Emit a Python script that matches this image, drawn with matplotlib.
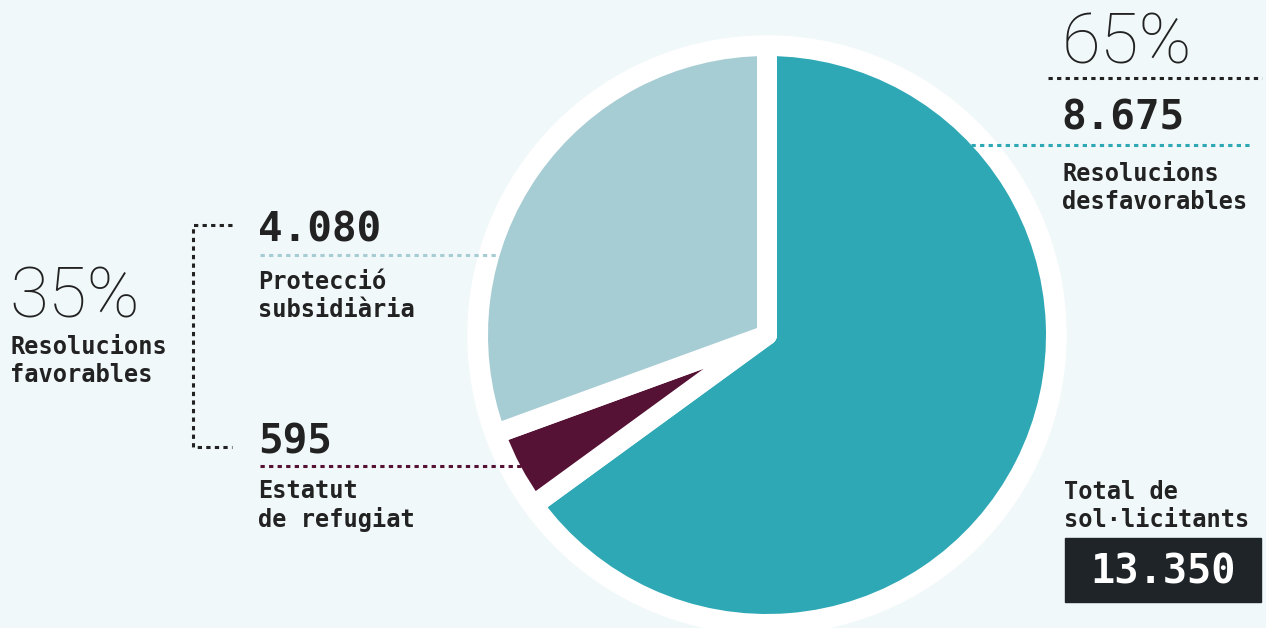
import numpy as np
import matplotlib.pyplot as plt
from matplotlib.patches import Circle, Rectangle

# ------------------------------------------------------------------
# Data
# ------------------------------------------------------------------
categories = ['Resolucions\ndesfavorables', 'Estatut\nde refugiat', 'Protecció\nsubsidiària']
values = [8675, 595, 4080]
colors = ['#2ea8b5', '#561234', '#a7cdd4']
group_favorable = 'Resolucions\nfavorables'
total_label = 'Total de\nsol·licitants'

total = sum(values)
pct_unfav = round(100 * values[0] / total)
pct_fav = round(100 * (values[1] + values[2]) / total)


def fmt(v):
    return f"{v:,}".replace(',', '.')


# ------------------------------------------------------------------
# Layout (pixel coordinates, y down)
# ------------------------------------------------------------------
W, H = 1266, 628
bg = '#f1f8fa'
dark = '#222222'
cx, cy = 767, 335        # pie centre
r_vis = 279              # visible slice radius
gap = 20                 # white gap between slices (px)
r_disc = 299             # white backing disc
line_h = 29              # baseline-to-baseline of label lines (px)

mono = 'DejaVu Sans Mono'
thin = 'Roboto'

fig = plt.figure(figsize=(W / 100, H / 100), dpi=100, facecolor=bg)
ax = fig.add_axes([0, 0, 1, 1])
ax.set_facecolor(bg)

ax.add_patch(Circle((cx, cy), r_disc, color='white', zorder=1))

wedges, _ = ax.pie(values, colors=colors, startangle=-90, counterclock=True,
                   center=(cx, cy), radius=r_vis + gap / 2,
                   wedgeprops=dict(edgecolor='white', linewidth=gap * 0.72,
                                   joinstyle='round'))
for w in wedges:
    w.set_zorder(3)

ax.set_xlim(0, W)
ax.set_ylim(H, 0)
ax.set_aspect('equal')
ax.axis('off')


def edge_x(y, side):
    return cx + side * np.sqrt(r_vis ** 2 - (y - cy) ** 2)


def dotted(xs, ys, color):
    ax.plot(xs, ys, color=color, lw=2.2, linestyle=(0, (1.4, 1.4)),
            dash_capstyle='butt', solid_joinstyle='miter', zorder=4)


def label(x, y_first, s, **kw):
    # y_first = baseline of the first line; matplotlib anchors the last one
    n = s.count('\n')
    ax.text(x, y_first + n * line_h, s, family=mono, fontweight='bold',
            fontsize=17, color=dark, va='baseline', linespacing=1.22, **kw)


# connector lines
dotted([1048, 1262], [78, 78], dark)
dotted([edge_x(145, 1), 1253], [145, 145], colors[0])
dotted([260, edge_x(255, -1)], [255, 255], colors[2])
dotted([260, edge_x(466, -1)], [466, 466], colors[1])
dotted([232, 193, 193, 232], [225, 225, 447, 447], dark)

# right side texts
ax.text(1062, 63, f"{pct_unfav}%", family=thin, fontweight='light',
        fontsize=51, color=dark, va='baseline')
ax.text(1061, 130, fmt(values[0]), family=mono, fontweight='bold',
        fontsize=29.5, color=dark, va='baseline')
label(1062, 180, categories[0])

# left side texts
ax.text(9, 317, f"{pct_fav}%", family=thin, fontweight='light',
        fontsize=51, color=dark, va='baseline')
label(10, 353, group_favorable)

ax.text(258, 242, fmt(values[2]), family=mono, fontweight='bold',
        fontsize=29.5, color=dark, va='baseline')
label(258, 288, categories[2])

ax.text(258, 453, fmt(values[1]), family=mono, fontweight='bold',
        fontsize=29.5, color=dark, va='baseline')
label(258, 498, categories[1])

# total box
label(1064, 498, total_label)
ax.add_patch(Rectangle((1065, 538), 196, 64, color='#1f2428', zorder=4))
ax.text(1163, 583, fmt(total), family=mono, fontweight='bold',
        fontsize=29, color='white', va='baseline', ha='center', zorder=5)

fig.savefig('out.png', dpi=100, facecolor=bg)
